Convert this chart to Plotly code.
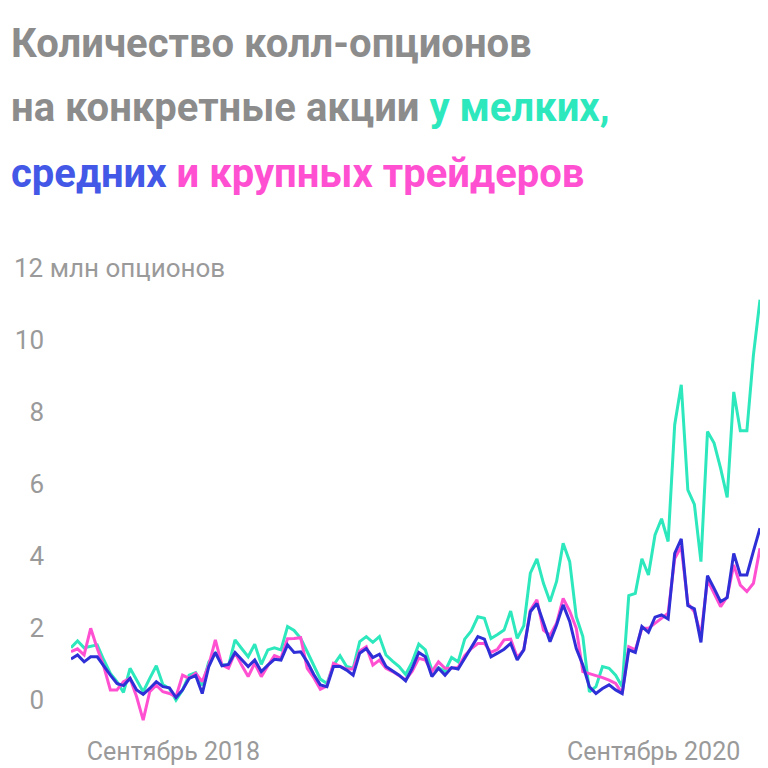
import pandas as pd
import plotly.graph_objects as go

# weekly-ish points
small = [1.46, 1.65, 1.46, 1.51, 1.54, 1.12, 0.75, 0.52, 0.22, 0.89, 0.56, 0.24, 0.61, 0.96, 0.44,
         0.33, 0.01, 0.29, 0.70, 0.77, 0.42, 1.07, 1.31, 1.00, 0.96, 1.68, 1.44, 1.21, 1.56, 1.00,
         1.40, 1.46, 1.40, 2.05, 1.94,
         1.72, 1.35, 0.98, 0.59, 0.47, 0.98, 1.24, 0.94, 0.89, 1.63, 1.77, 1.61, 1.77, 1.26, 1.09,
         0.94, 0.72, 1.07, 1.56, 1.40, 0.84, 0.91, 0.81, 1.19, 1.07, 1.70, 1.93, 2.32, 2.28, 1.72,
         1.83, 1.95, 2.48, 1.72, 2.07,
         3.53, 3.93, 3.25, 2.74, 3.30, 4.36, 3.85, 2.32, 1.77, 0.24, 0.38, 0.94, 0.89, 0.70, 0.38,
         2.91, 2.97, 3.93, 3.48, 4.59, 5.04, 4.41, 7.65, 8.76, 5.84, 5.44, 3.85, 7.46, 7.14, 6.44,
         5.63, 8.56, 7.48, 7.48, 9.59, 11.12]
medium = [1.15, 1.26, 1.07, 1.21, 1.21, 0.94, 0.70, 0.47, 0.41, 0.61, 0.29, 0.17, 0.33, 0.52, 0.38,
          0.35, 0.08, 0.29, 0.61, 0.69, 0.19, 0.94, 1.33, 0.96, 1.00, 1.33, 1.12, 0.94, 1.12, 0.80,
          0.98, 1.14, 1.12, 1.54, 1.33,
          1.35, 1.07, 0.72, 0.43, 0.38, 0.94, 0.94, 0.84, 0.70, 1.31, 1.44, 1.19, 1.28, 0.94, 0.81,
          0.70, 0.54, 0.89, 1.33, 1.21, 0.66, 0.89, 0.70, 0.91, 0.87, 1.17, 1.49, 1.77, 1.70, 1.21,
          1.31, 1.42, 1.58, 1.12, 1.40,
          2.46, 2.69, 2.19, 1.63, 2.09, 2.65, 2.19, 1.44, 0.98, 0.38, 0.19, 0.33, 0.43, 0.29, 0.19,
          1.40, 1.33, 2.05, 1.89, 2.31, 2.37, 2.26, 4.08, 4.48, 2.63, 2.54, 1.61, 3.46, 3.11, 2.74,
          2.85, 4.08, 3.48, 3.48, 4.14, 4.78]
large = [1.35, 1.43, 1.26, 2.00, 1.44, 0.94, 0.29, 0.29, 0.52, 0.61, 0.10, -0.55, 0.24, 0.42, 0.24,
         0.19, 0.10, 0.70, 0.61, 0.75, 0.52, 0.98, 1.68, 0.98, 0.89, 1.33, 0.98, 0.66, 1.03, 0.66,
         0.96, 1.24, 1.17, 1.71, 1.72,
         1.74, 0.89, 0.63, 0.31, 0.40, 1.03, 0.94, 0.87, 0.87, 1.37, 1.49, 0.98, 1.12, 0.89, 0.80,
         0.68, 0.57, 0.81, 1.17, 1.12, 0.80, 1.07, 0.89, 0.89, 0.91, 1.24, 1.44, 1.58, 1.58, 1.33,
         1.42, 1.68, 1.70, 1.19, 1.40,
         2.50, 2.79, 1.95, 1.81, 2.14, 2.83, 2.48, 2.00, 0.80, 0.75, 0.70, 0.63, 0.56, 0.47, 0.19,
         1.49, 1.40, 2.00, 2.00, 2.14, 2.30, 2.42, 3.94, 4.27, 2.69, 2.46, 1.81, 3.34, 2.97, 2.60,
         2.88, 3.76, 3.20, 3.02, 3.25, 4.22]

dates = pd.date_range("2018-03-29", "2021-02-10", periods=len(small))
y_ticks = [0, 2, 4, 6, 8, 10]
x_ticks = ["2018-09-01", "2020-09-01"]
x_labels = ["Сентябрь 2018", "Сентябрь 2020"]

GREY = "#8c8c8c"
TEAL = "#2de8bd"
BLUE = "#2f2fd8"
PINK = "#ff50d2"

L, T, B = 63, 260, 54
plot_h = 768 - T - B
plot_w = 768 - L

fig = go.Figure()
for vals, col in [(small, TEAL), (large, PINK), (medium, BLUE)]:
    fig.add_trace(go.Scatter(x=dates, y=vals, mode="lines", line=dict(color=col, width=3),
                             showlegend=False, hoverinfo="skip"))

title_lines = [
    "Количество колл-опционов",
    f"на конкретные акции <span style='color:{TEAL}'>у мелких,</span>",
    f"<span style='color:#4358e6'>средних</span> <span style='color:{PINK}'>и крупных трейдеров</span>",
]
for i, t in enumerate(title_lines):
    fig.add_annotation(text=f"<b>{t}</b>", xref="paper", yref="paper",
                       x=-L / plot_w, y=1 + (T - (35 + 65 * i)) / plot_h,
                       xanchor="left", yanchor="middle", showarrow=False,
                       font=dict(size=40, color=GREY, family="Roboto"))

fig.add_annotation(text="12 млн опционов", xref="paper", yref="y", x=-(L - 3) / plot_w, y=12,
                   xanchor="left", yanchor="middle", showarrow=False,
                   font=dict(size=26, color="#9a9a9a", family="Roboto"))

fig.update_layout(
    autosize=True,
    margin=dict(l=L, r=0, t=T, b=B),
    plot_bgcolor="white", paper_bgcolor="white",
    font=dict(family="Roboto", color="#9a9a9a"),
    xaxis=dict(range=[dates[0], dates[-1]], tickvals=x_ticks, ticktext=x_labels,
               showgrid=False, zeroline=False, showline=False, ticks="",
               tickfont=dict(size=25), ticklabelstandoff=12),
    yaxis=dict(range=[-0.6, 12], tickvals=y_ticks, showgrid=False, zeroline=False,
               showline=False, ticks="", tickfont=dict(size=26), ticklabelstandoff=26),
)

fig.write_html("out.html", default_width="100%", default_height="100vh")
